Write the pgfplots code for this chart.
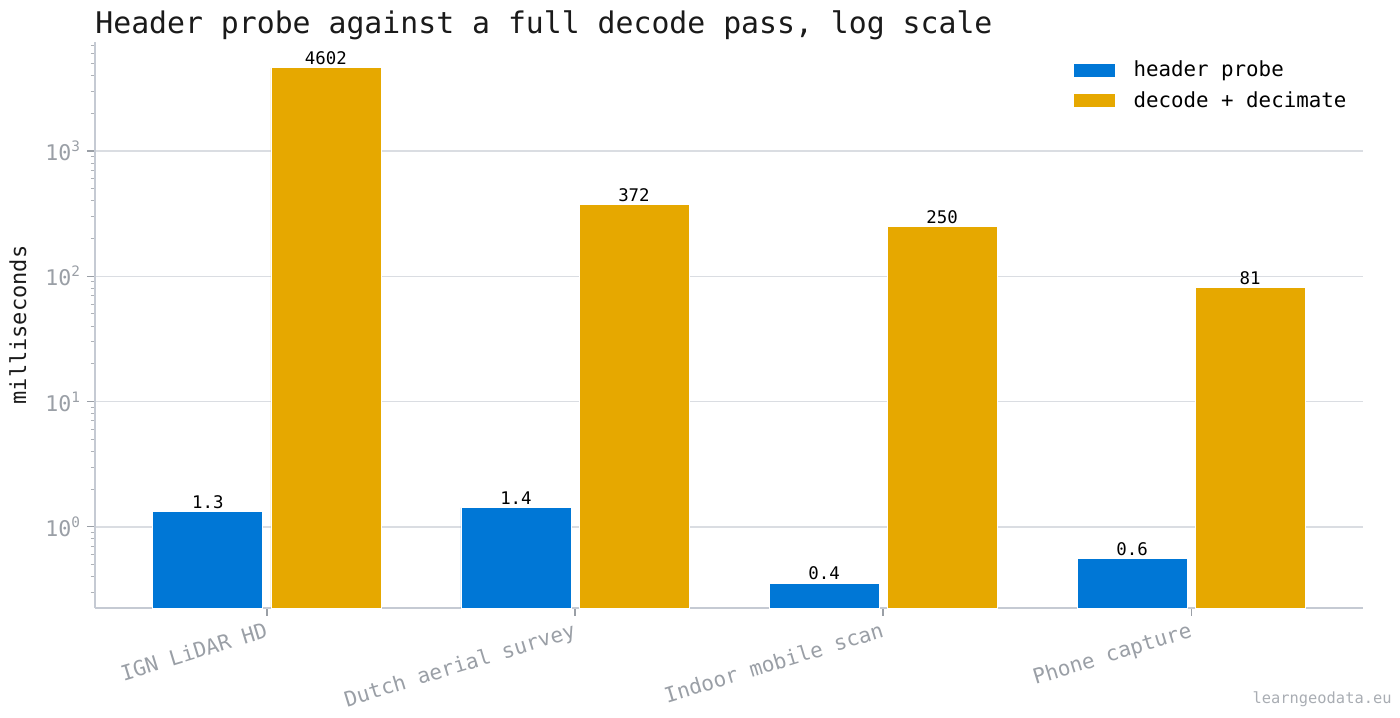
\documentclass[border=0pt]{standalone}
\usepackage{pgfplots}
\pgfplotsset{compat=1.18}
\usepackage{fontspec}
\setmainfont{DejaVu Sans Mono}
\definecolor{cblue}{HTML}{0077D6}
\definecolor{corange}{HTML}{E6A800}
\definecolor{tickgray}{HTML}{9A9FA6}
\definecolor{gridgray}{HTML}{DADDE2}
\definecolor{axgray}{HTML}{C5CAD3}
\definecolor{titleblack}{HTML}{1A1A1A}
\newcommand{\tp}[1]{10\raisebox{0.42em}{\fontsize{7.2}{8}\selectfont #1}}
\pgfplotsset{boxlegend/.style={legend image code/.code={\fill[##1] (0pt,-3.5pt) rectangle (21pt,3.5pt);}}}
\begin{document}
\begin{tikzpicture}
\path[use as bounding box] (-47.5pt,-54.5pt) rectangle (652.5pt,304pt);
\begin{axis}[
  scale only axis, width=634pt, height=283pt,
  ymode=log, log origin=infty,
  ymin=0.225, ymax=7400,
  xmin=-0.558, xmax=3.558,
  axis lines*=left,
  axis line style={axgray, line width=0.8pt, -},
  ytick={1,10,100,1000},
  yticklabels={\tp{0},\tp{1},\tp{2},\tp{3}},
  minor ytick={0.3,0.4,0.5,0.6,0.7,0.8,0.9,2,3,4,5,6,7,8,9,20,30,40,50,60,70,80,90,200,300,400,500,600,700,800,900,2000,3000,4000,5000,6000,7000},
  ymajorgrids, yminorgrids=false,
  major grid style={gridgray, line width=0.7pt},
  tick align=outside,
  major tick length=4pt, minor tick length=2.2pt,
  every tick/.style={tickgray, line width=0.6pt},
  every minor tick/.style={tickgray!80, line width=0.5pt},
  yticklabel style={font=\fontsize{10.8}{12}\selectfont, text=tickgray},
  xtick={0,1,2,3},
  xticklabels={IGN LiDAR HD, Dutch aerial survey, Indoor mobile scan, Phone capture},
  xticklabel style={font=\fontsize{10.5}{12}\selectfont, text=tickgray, rotate=17, anchor=north east, inner sep=2pt},
  x tick style={tickgray, line width=0.6pt},
  xtick pos=bottom, ytick pos=left,
  ylabel={milliseconds},
  ylabel style={at={(axis description cs:-0.0608,0.5)}, anchor=center, font=\fontsize{11}{13}\selectfont, text=titleblack},
  title={Header probe against a full decode pass, log scale},
  title style={at={(axis description cs:0,1)}, anchor=base west, yshift=-2pt, font=\fontsize{14.9}{17}\selectfont, text=titleblack, inner sep=0pt},
  legend style={draw=none, fill=none, at={(axis description cs:0.766,0.982)}, anchor=north west,
    font=\fontsize{10.4}{12}\selectfont, row sep=2pt,
    /tikz/every odd column/.append style={column sep=7pt}},
  legend cell align=left,
  nodes near coords,
  point meta=explicit symbolic,
  every node near coord/.append style={font=\fontsize{8.7}{10}\selectfont, text=black, anchor=south, inner sep=1.2pt},
  clip=false,
]
\addplot[ybar, bar width=0.357, bar shift=-0.1916, fill=cblue, draw=white, line width=0.4pt, boxlegend,
  every node near coord/.append style={xshift=-29.5pt}]
  coordinates {(0,1.32) [1.3] (1,1.42) [1.4] (2,0.356) [0.4] (3,0.555) [0.6]};
\addlegendentry{header probe}
\addplot[ybar, bar width=0.357, bar shift=0.1916, fill=corange, draw=white, line width=0.4pt, boxlegend,
  every node near coord/.append style={xshift=29.5pt}]
  coordinates {(0,4602) [4602] (1,372) [372] (2,250) [250] (3,81) [81]};
\addlegendentry{decode + decimate}
\end{axis}
\node[anchor=base east, text=tickgray!85, font=\fontsize{7.7}{9}\selectfont, inner sep=0pt] at (648.5pt,-47.5pt) {learngeodata.eu};
\end{tikzpicture}
\end{document}
